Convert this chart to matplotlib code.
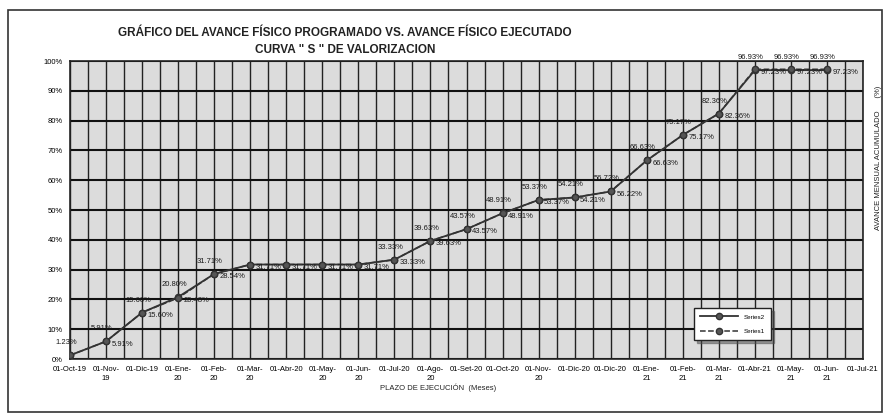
import numpy as np
import matplotlib
matplotlib.use("Agg")
import matplotlib.pyplot as plt
from matplotlib.patches import Rectangle

plt.rcParams['font.family'] = ['Liberation Sans Narrow', 'Liberation Sans', 'DejaVu Sans']

months = ["01-Oct-19", "01-Nov-\n19", "01-Dic-19", "01-Ene-\n20", "01-Feb-\n20", "01-Mar-\n20",
          "01-Abr-20", "01-May-\n20", "01-Jun-\n20", "01-Jul-20", "01-Ago-\n20", "01-Set-20",
          "01-Oct-20", "01-Nov-\n20", "01-Dic-20", "01-Dic-20", "01-Ene-\n21", "01-Feb-\n21",
          "01-Mar-\n21", "01-Abr-21", "01-May-\n21", "01-Jun-\n21", "01-Jul-21"]

# Series2 (programado)
series2 = [1.23, 5.91, 15.60, 20.80, 28.54, 31.71, 31.71, 31.71, 31.71, 33.33, 39.63, 43.57,
           48.91, 53.37, 54.21, 56.22, 66.63, 75.17, 82.36, 96.93, 96.93, 96.93, np.nan]
series2_text = ["1.23%", "5.91%", "15.60%", "20.80%", "31.71%", "", "", "", "", "33.33%", "39.63%",
                "43.57%", "48.91%", "53.37%", "54.21%", "56.72%", "66.63%", "75.17%", "82.36%",
                "96.93%", "96.93%", "96.93%", ""]
# Series1 (ejecutado)
series1 = [1.23, 5.91, 15.60, 20.48, 28.54, 31.71, 31.71, 31.71, 31.71, 33.33, 39.63, 43.57,
           48.91, 53.37, 54.21, 56.22, 66.63, 75.17, 82.36, 97.23, 97.23, 97.23, np.nan]
series1_text = ["", "5.91%", "15.60%", "20.48%", "28.54%", "31.71%", "31.71%", "31.71%", "31.71%",
                "33.33%", "39.63%", "43.57%", "48.91%", "53.37%", "54.21%", "56.22%", "66.63%",
                "75.17%", "82.36%", "97.23%", "97.23%", "97.23%", ""]

yticks = [0, 10, 20, 30, 40, 50, 60, 70, 80, 90, 100]
ytick_labels = ["0%", "10%", "20%", "30%", "40%", "50%", "60%", "70%", "80%", "90%", "100%"]

W, H = 884, 415
fig = plt.figure(figsize=(W / 100, H / 100), dpi=100)
fig.patch.set_facecolor('white')

# outer frame
fig.add_artist(Rectangle((8 / W, 3 / H), 874 / W, 402 / H, transform=fig.transFigure,
                         fill=False, edgecolor='#333333', linewidth=1.2))

ax = fig.add_axes([70 / W, 1 - 359 / H, 793 / W, 298 / H])
ax.set_facecolor('#dcdcdc')
x = np.arange(len(months))
ax.set_xlim(0, len(months) - 1)
ax.set_ylim(0, 100)

# grid
for xv in np.arange(0, len(months) - 0.99, 0.5):
    ax.axvline(xv, color='#222222', linewidth=1.0, zorder=1)
for yv in yticks:
    ax.axhline(yv, color='#111111', linewidth=1.5, zorder=1)

ax.plot(x, series2, color='#333333', linewidth=1.3, marker='o', markersize=4.5,
        markerfacecolor='#555555', markeredgecolor='#333333', label='Series2', zorder=3)
ax.plot(x, series1, color='#333333', linewidth=1.1, linestyle='--', marker='o', markersize=4.5,
        markerfacecolor='#555555', markeredgecolor='#333333', label='Series1', zorder=3)

for xi, v, t in zip(x, series2, series2_text):
    if t:
        ax.annotate(t, (xi, v), xytext=(-3, 9), textcoords='offset points', ha='center',
                    va='center', fontsize=5.5, color='#1a1a1a', zorder=4)
for xi, v, t in zip(x, series1, series1_text):
    if t:
        ax.annotate(t, (xi, v), xytext=(4, -2), textcoords='offset points', ha='left',
                    va='center', fontsize=5.5, color='#1a1a1a', zorder=4)

ax.set_yticks(yticks)
ax.set_yticklabels(ytick_labels, fontsize=5.5)
ax.set_xticks(x)
ax.set_xticklabels(months, fontsize=5.5, linespacing=1.4, va='top')
ax.tick_params(axis='both', length=0, pad=5)
for s in ax.spines.values():
    s.set_color('#222222')
    s.set_linewidth(1.2)

leg = ax.legend(loc='upper left', bbox_to_anchor=((694 - 70) / 793, (359 - 308) / 298),
                fontsize=4.5, frameon=True, fancybox=False, shadow=True, handlelength=6,
                borderpad=1.0, labelspacing=1.4, handletextpad=1.0, borderaxespad=0)
leg.get_frame().set_edgecolor('#222222')
leg.get_frame().set_facecolor('white')
leg.set_zorder(5)

fig.text(345 / W, 1 - 33 / H, "GRÁFICO DEL AVANCE FÍSICO PROGRAMADO VS. AVANCE FÍSICO EJECUTADO",
         ha='center', va='center', fontsize=8.5, fontweight='bold', color='#222222')
fig.text(345 / W, 1 - 50 / H, 'CURVA " S " DE VALORIZACION',
         ha='center', va='center', fontsize=8.5, fontweight='bold', color='#222222')
fig.text(438 / W, 1 - 388 / H, "PLAZO DE EJECUCIÓN  (Meses)", ha='center', va='center',
         fontsize=5.5, color='#222222')
fig.text(878 / W, 1 - 158 / H, "AVANCE MENSUAL ACUMULADO      (%)", ha='center', va='center',
         rotation=90, fontsize=5.5, color='#222222')

fig.savefig("out.png", dpi=100)
